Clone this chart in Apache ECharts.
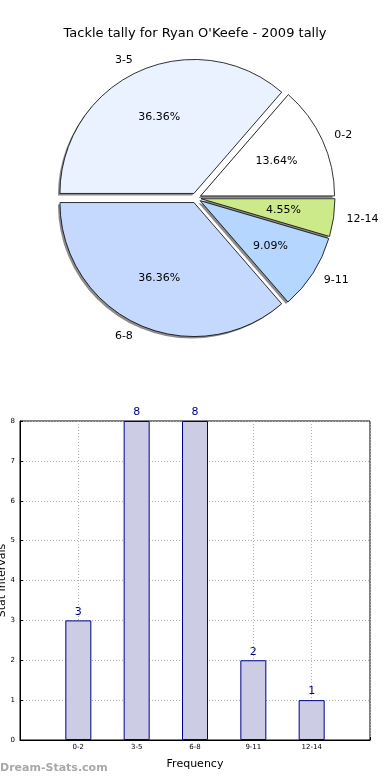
<!DOCTYPE html>
<html><head><meta charset="utf-8">
<script src="https://cdn.jsdelivr.net/npm/echarts@6/dist/echarts.min.js"></script>
<style>html,body{margin:0;padding:0;background:#fff}#c{width:390px;height:780px}</style>
</head><body><div id="c"></div>
<script>
const categories = ['0-2', '3-5', '6-8', '9-11', '12-14'];
const counts = [3, 8, 8, 2, 1];
const pieColors = ['#ffffff', '#eaf1ff', '#c5d9ff', '#b4d6ff', '#cdea8a'];
const yTicks = [0, 1, 2, 3, 4, 5, 6, 7, 8];

const F = 'DejaVu Sans';
const R = 134;
const CX = 196, CY = 198;
const pieData = categories.map((c, i) => ({ name: c, value: counts[i], selected: true, itemStyle: { color: pieColors[i] } }));
const plainData = categories.map((c, i) => ({ name: c, value: counts[i], selected: true }));
const axisCats = [''].concat(categories, ['']);
const barData = [null].concat(counts, [null]);

const common = { startAngle: 0, clockwise: false, selectedMode: 'multiple', selectedOffset: 5, avoidLabelOverlap: false, emphasis: { disabled: true }, silent: true };

const chart = echarts.init(document.getElementById('c'), null, { renderer: 'canvas' });
chart.setOption({
  animation: false,
  textStyle: { fontFamily: F },
  title: { text: "Tackle tally for Ryan O'Keefe - 2009 tally", left: 'center', top: 22, textStyle: { fontFamily: F, fontSize: 13, fontWeight: 'normal', color: '#000' } },
  grid: { left: 20, right: 20, top: 421, height: 319, show: true, borderColor: '#000', borderWidth: 1, outerBoundsMode: 'none', containLabel: false },
  xAxis: {
    type: 'category', data: axisCats, boundaryGap: false,
    name: 'Frequency', nameLocation: 'middle', nameGap: 19, nameTextStyle: { fontSize: 11, color: '#000', fontFamily: F },
    axisLine: { lineStyle: { color: '#000' } },
    axisTick: { inside: true, length: 3, lineStyle: { color: '#000' } },
    axisLabel: { fontSize: 7, color: '#000', interval: 0, margin: 4 },
    splitLine: { show: true, lineStyle: { color: '#b0b0b0', type: [1, 2] } }
  },
  yAxis: {
    type: 'value', min: yTicks[0], max: yTicks[yTicks.length - 1], interval: 1,
    name: 'Stat Intervals', nameLocation: 'middle', nameGap: 12, nameRotate: 90, nameMoveOverlap: false,
    nameTextStyle: { fontSize: 11, color: '#000', fontFamily: F },
    axisLine: { show: true, lineStyle: { color: '#000' } },
    axisTick: { show: true, inside: true, length: 3, lineStyle: { color: '#000' } },
    axisLabel: { fontSize: 7, color: '#000', margin: 5 },
    splitLine: { show: true, lineStyle: { color: '#b0b0b0', type: [1, 2] } }
  },
  series: [
    Object.assign({}, common, {
      type: 'pie', center: [CX - 2, CY + 2], radius: [0, R], z: 1,
      itemStyle: { color: '#8c8c8c', borderWidth: 0 },
      label: { show: false }, labelLine: { show: false },
      data: plainData
    }),
    Object.assign({}, common, {
      type: 'pie', center: [CX, CY], radius: [0, R], z: 2,
      itemStyle: { borderColor: '#000', borderWidth: 0.8 },
      label: { show: true, position: 'outside', fontSize: 11, color: '#000', fontFamily: F, distanceToLabelLine: 0, formatter: '{b}' },
      labelLine: { show: false, length: 13, length2: 0 },
      data: pieData
    }),
    Object.assign({}, common, {
      type: 'pie', center: [CX, CY], radius: [0, R * 1.2], z: 3,
      itemStyle: { color: 'rgba(0,0,0,0)', borderWidth: 0 },
      label: { show: true, position: 'inside', fontSize: 11, color: '#000', fontFamily: F, formatter: '{d}%' },
      labelLine: { show: false },
      data: plainData
    }),
    {
      type: 'bar', data: barData, barWidth: 26,
      itemStyle: { color: '#cccce4', borderColor: '#00008b', borderWidth: 1 },
      label: { show: true, position: 'top', distance: 3, fontSize: 11, color: '#00008b', fontFamily: F },
      silent: true
    }
  ],
  graphic: [
    { type: 'text', left: 0, top: 763, style: { text: 'Dream-Stats.com', fontSize: 11, fontWeight: 'bold', fill: '#a8a8a8', fontFamily: F } }
  ]
});
</script></body></html>
